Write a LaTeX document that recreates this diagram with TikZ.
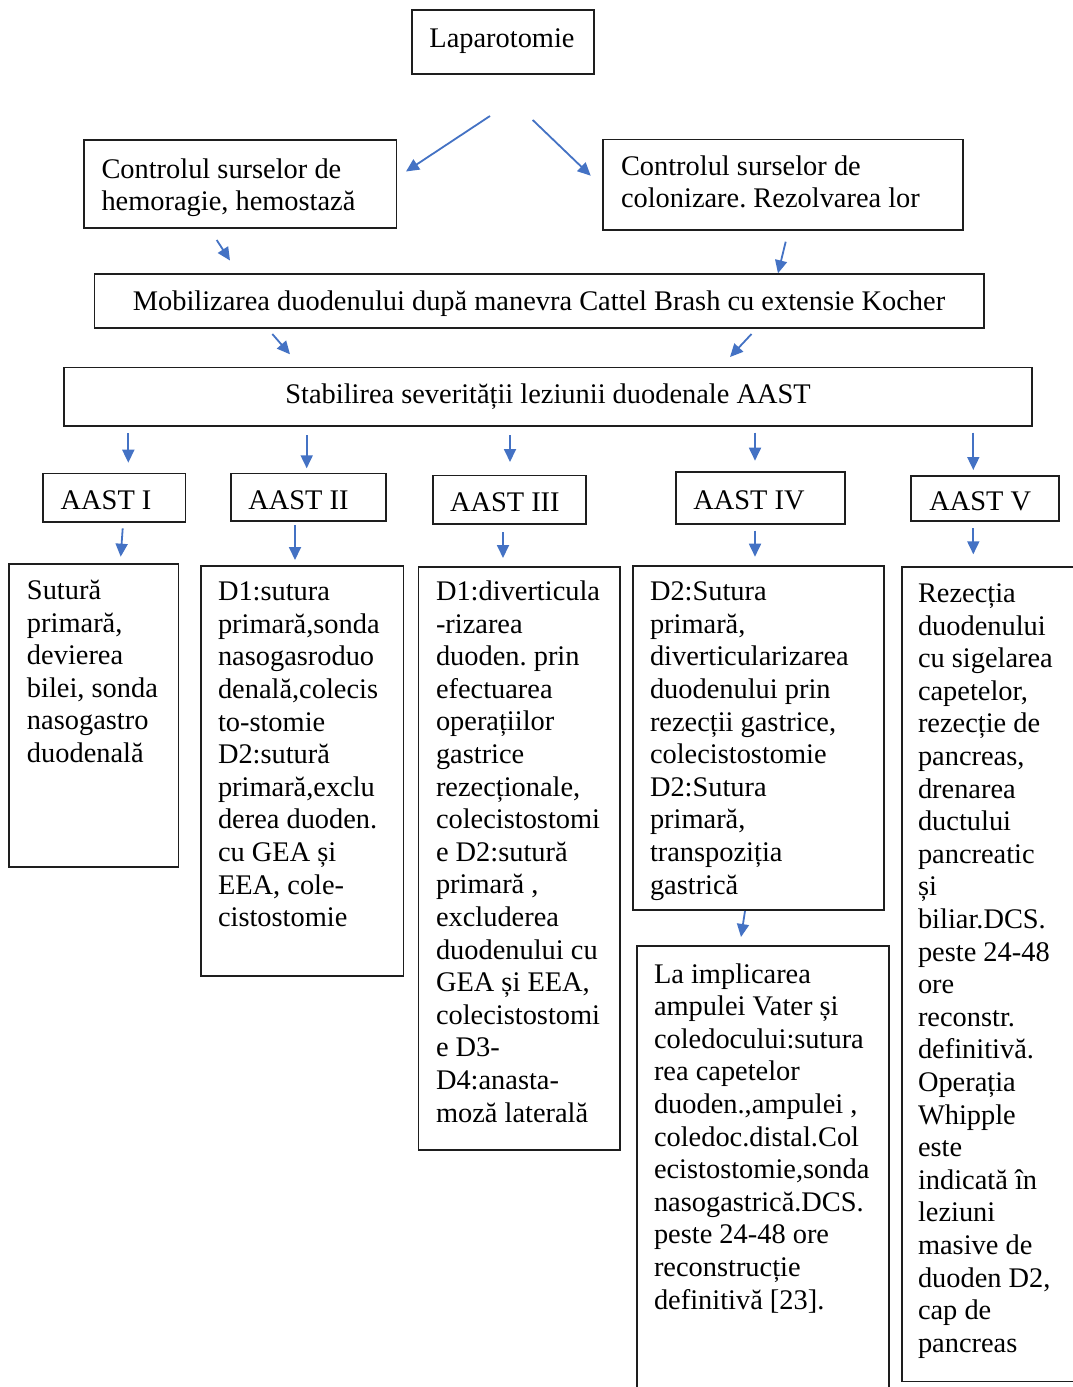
\documentclass[tikz,border=0pt]{standalone}
\usepackage{fontspec}
\setmainfont{Liberation Serif}
\usetikzlibrary{arrows.meta}
\definecolor{arrblue}{HTML}{4472C4}
\definecolor{boxline}{HTML}{1E1E1E}
\frenchspacing
\newcommand\bodyfont{\fontsize{28.4}{32.6}\selectfont}
\newcommand\mybox[5]{\node[boxnode, minimum width={#4-#2}, minimum height={#5-#3}] (#1) at (#2,#3) {};}
\tikzset{
  boxnode/.style={draw=boxline, line width=1.8pt, inner sep=0pt, outer sep=0pt, anchor=north west, rectangle},
  txt/.style={inner sep=0pt, outer sep=0pt, font=\bodyfont, align=left, anchor=north west},
  one/.style={inner sep=0pt, outer sep=0pt, font=\bodyfont},
  arr/.style={draw=arrblue, line width=1.8pt, -{Triangle[length=13pt,width=12pt]}}
}
\begin{document}
\begin{tikzpicture}[x=1pt,y=-1pt]
\useasboundingbox (0,0) rectangle (1073,1387);
\clip (0,0) rectangle (1073,1387);
\fill[white] (0,0) rectangle (1073,1387);

% boxes
\mybox{lap}{412}{10}{594}{74}
\mybox{ctlL}{84}{140}{396.5}{228}
\mybox{ctlR}{603.3}{139.5}{963.3}{230}
\mybox{mob}{94.5}{274}{984}{327.7}
\mybox{stab}{64}{367.5}{1032}{426}
\mybox{aI}{43.3}{473.5}{185.5}{522}
\mybox{aII}{231}{473.5}{386}{520.7}
\mybox{aIII}{433}{475.5}{586}{524}
\mybox{aIV}{676}{472.3}{845}{524}
\mybox{aV}{911}{476}{1059}{520.7}
\mybox{bI}{9.3}{564}{178.5}{867}
\mybox{bII}{200.7}{565.7}{403.5}{976}
\mybox{bIII}{418.5}{567}{620}{1150}
\mybox{bIV}{633.3}{566}{884}{910}
\mybox{bIVb}{637}{946}{889}{1400}
\mybox{bV}{901.7}{567}{1080}{1381.5}

% texts
\node[one, anchor=base] (lapT) at (502,47) {Laparotomie};
\node[txt] (ctlLT) at (101.5,155.2) {\strut Controlul surselor de\\hemoragie, hemostază};
\node[txt] (ctlRT) at (621,152.2) {\strut Controlul surselor de\\colonizare. Rezolvarea lor};
\node[one, anchor=base] (mobT) at (539,310) {Mobilizarea duodenului după manevra Cattel Brash cu extensie Kocher};
\node[one, anchor=base] (stabT) at (548,403) {Stabilirea severității leziunii duodenale AAST};
\node[one, anchor=base west] (aIT) at (60.7,509.5) {AAST I};
\node[one, anchor=base west] (aIIT) at (248.3,509.5) {AAST II};
\node[one, anchor=base west] (aIIIT) at (450,511) {AAST III};
\node[one, anchor=base west] (aIVT) at (693.3,509) {AAST IV};
\node[one, anchor=base west] (aVT) at (929.3,510.5) {AAST V};

\node[txt] (bIT) at (27,576.7) {\strut Sutură\\primară,\\devierea\\bilei, sonda\\nasogastro\\duodenală};
\node[txt] (bIIT) at (218,577.9) {\strut D1:sutura\\primară,sonda\\nasogasroduo\\denală,colecis\\to-stomie\\D2:sutură\\primară,exclu\\derea duoden.\\cu GEA și\\EEA, cole-\\cistostomie};
\node[txt] (bIIIT) at (436,577.7) {\strut D1:diverticula\\-rizarea\\duoden. prin\\efectuarea\\operațiilor\\gastrice\\rezecționale,\\colecistostomi\\e D2:sutură\\primară ,\\excluderea\\duodenului cu\\GEA și EEA,\\colecistostomi\\e D3-\\D4:anasta-\\moză laterală};
\node[txt] (bIVT) at (650,577.9) {\strut D2:Sutura\\primară,\\diverticularizarea\\duodenului prin\\rezecții gastrice,\\colecistostomie\\D2:Sutura\\primară,\\transpoziția\\gastrică};
\node[txt] (bIVbT) at (654,960.2) {\strut La implicarea\\ampulei Vater și\\coledocului:sutura\\rea capetelor\\duoden.,ampulei ,\\coledoc.distal.Col\\ecistostomie,sonda\\nasogastrică.DCS.\\peste 24-48 ore\\reconstrucție\\definitivă [23].};
\node[txt] (bVT) at (918,579.7) {\strut Rezecția\\duodenului\\cu sigelarea\\capetelor,\\rezecție de\\pancreas,\\drenarea\\ductului\\pancreatic\\și\\biliar.DCS.\\peste 24-48\\ore\\reconstr.\\definitivă.\\Operația\\Whipple\\este\\indicată în\\leziuni\\masive de\\duoden D2,\\cap de\\pancreas};

% arrow end points
\coordinate (lapL) at (490,116);   \coordinate (ctlLin) at (406,171.5);
\coordinate (lapR) at (532.7,120); \coordinate (ctlRin) at (590.7,175.7);
\coordinate (ctlLout) at (216.7,240); \coordinate (mobinL) at (230,260.5);
\coordinate (ctlRout) at (785.7,241.7); \coordinate (mobinR) at (778,273.3);
\coordinate (moboutL) at (272.3,334); \coordinate (stabinL) at (290,354.3);
\coordinate (moboutR) at (751.5,334); \coordinate (stabinR) at (730,357);
\coordinate (s1) at (128.3,433.3); \coordinate (aIin) at (128.3,462.7);
\coordinate (s2) at (306.7,435);   \coordinate (aIIin) at (306.7,468.3);
\coordinate (s3) at (510,435);     \coordinate (aIIIin) at (510,462);
\coordinate (s4) at (755,432.7);   \coordinate (aIVin) at (755,460.7);
\coordinate (s5) at (973.3,432.7); \coordinate (aVin) at (973.3,470);
\coordinate (aIout) at (122.7,528.3);  \coordinate (bIin) at (120.7,556.7);
\coordinate (aIIout) at (295,525);     \coordinate (bIIin) at (295,560);
\coordinate (aIIIout) at (503,532);    \coordinate (bIIIin) at (503,558);
\coordinate (aIVout) at (755,530.7);   \coordinate (bIVin) at (755,556.7);
\coordinate (aVout) at (973.3,528.3);  \coordinate (bVin) at (973.3,554.3);
\coordinate (bIVout) at (745,911);     \coordinate (bIVbin) at (741,937);

\draw[arr] (lapL) -- (ctlLin);
\draw[arr] (lapR) -- (ctlRin);
\draw[arr] (ctlLout) -- (mobinL);
\draw[arr] (ctlRout) -- (mobinR);
\draw[arr] (moboutL) -- (stabinL);
\draw[arr] (moboutR) -- (stabinR);
\draw[arr] (s1) -- (aIin);
\draw[arr] (s2) -- (aIIin);
\draw[arr] (s3) -- (aIIIin);
\draw[arr] (s4) -- (aIVin);
\draw[arr] (s5) -- (aVin);
\draw[arr] (aIout) -- (bIin);
\draw[arr] (aIIout) -- (bIIin);
\draw[arr] (aIIIout) -- (bIIIin);
\draw[arr] (aIVout) -- (bIVin);
\draw[arr] (aVout) -- (bVin);
\draw[arr] (bIVout) -- (bIVbin);
\end{tikzpicture}
\end{document}
